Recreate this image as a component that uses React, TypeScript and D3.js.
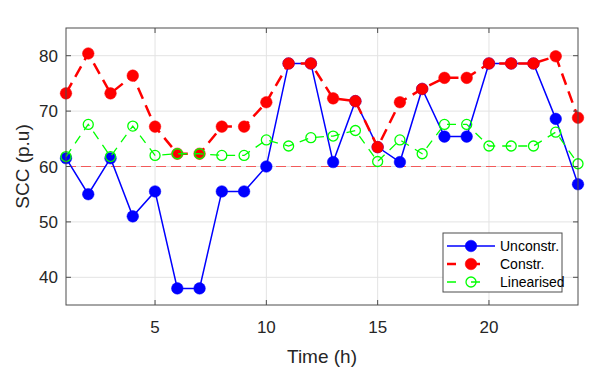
import React, { useRef, useEffect } from "react";
import { select, line, scaleLinear } from "d3";

const hours = [1, 2, 3, 4, 5, 6, 7, 8, 9, 10, 11, 12, 13, 14, 15, 16, 17, 18, 19, 20, 21, 22, 23, 24];
const unconstr = [61.5, 55, 61.5, 51, 55.5, 38, 38, 55.5, 55.5, 60, 78.6, 78.6, 60.8, 71.8, 63.5, 60.8, 74, 65.4, 65.4, 78.6, 78.6, 78.6, 68.6, 56.8];
const constr = [73.2, 80.4, 73.2, 76.4, 67.2, 62.3, 62.3, 67.2, 67.2, 71.6, 78.6, 78.6, 72.3, 71.8, 63.5, 71.6, 74, 76, 76, 78.6, 78.6, 78.6, 79.9, 68.8];
const linearised = [61.8, 67.6, 61.8, 67.3, 62, 62.3, 62.3, 62, 62, 64.8, 63.7, 65.2, 65.5, 66.5, 60.9, 64.8, 62.3, 67.6, 67.6, 63.7, 63.7, 63.7, 66.2, 60.5];
const limit = 60;
const xTicks = [5, 10, 15, 20];
const yTicks = [40, 50, 60, 70, 80];
const legendLabels = ["Unconstr.", "Constr.", "Linearised"];

const W = 598;
const H = 379;
const FONT = "'Liberation Sans', Arial, sans-serif";

const App = () => {
  const svgRef = useRef<SVGSVGElement>(null);

  useEffect(() => {
    const svg = select(svgRef.current);
    svg.selectAll("*").remove();

    const left = 66, right = 578, top = 28, bottom = 305;
    const x = scaleLinear().domain([1, 24]).range([left, right]);
    const y = scaleLinear().domain([35, 85]).range([bottom, top]);

    svg.append("rect").attr("width", W).attr("height", H).attr("fill", "#fff");

    // grid
    const grid = svg.append("g").attr("stroke", "#e3e3e3").attr("stroke-width", 1);
    xTicks.forEach((t) => {
      grid.append("line").attr("x1", x(t)).attr("x2", x(t)).attr("y1", top).attr("y2", bottom);
    });
    yTicks.forEach((t) => {
      grid.append("line").attr("x1", left).attr("x2", right).attr("y1", y(t)).attr("y2", y(t));
    });

    // limit line
    svg
      .append("line")
      .attr("x1", left)
      .attr("x2", right)
      .attr("y1", y(limit))
      .attr("y2", y(limit))
      .attr("stroke", "#f25a5a")
      .attr("stroke-width", 1.2)
      .attr("stroke-dasharray", "10,5");

    const mkLine = line<number>()
      .x((d, i) => x(hours[i]))
      .y((d) => y(d));

    const series = [
      { vals: unconstr, color: "#0000ff", width: 1.5, dash: null, fill: "#0000ff", r: 5.8 },
      { vals: constr, color: "#ff0000", width: 2.5, dash: "12,7", fill: "#ff0000", r: 5.8 },
      { vals: linearised, color: "#00ff00", width: 1.3, dash: "9,7", fill: "none", r: 5 },
    ];

    series.forEach((s) => {
      const g = svg.append("g");
      g.append("path")
        .attr("d", mkLine(s.vals))
        .attr("fill", "none")
        .attr("stroke", s.color)
        .attr("stroke-width", s.width)
        .attr("stroke-dasharray", s.dash);
      g.selectAll("circle")
        .data(s.vals)
        .join("circle")
        .attr("cx", (d, i) => x(hours[i]))
        .attr("cy", (d) => y(d))
        .attr("r", s.r)
        .attr("fill", s.fill)
        .attr("stroke", s.color)
        .attr("stroke-width", s.fill === "none" ? 1.3 : 0.5);
    });

    // axes box and ticks
    const ax = svg.append("g").attr("stroke", "#4d4d4d").attr("stroke-width", 1).attr("fill", "none");
    ax.append("rect")
      .attr("x", left)
      .attr("y", top)
      .attr("width", right - left)
      .attr("height", bottom - top);
    xTicks.forEach((t) => {
      ax.append("line").attr("x1", x(t)).attr("x2", x(t)).attr("y1", bottom).attr("y2", bottom - 5);
      ax.append("line").attr("x1", x(t)).attr("x2", x(t)).attr("y1", top).attr("y2", top + 5);
    });
    yTicks.forEach((t) => {
      ax.append("line").attr("x1", left).attr("x2", left + 5).attr("y1", y(t)).attr("y2", y(t));
      ax.append("line").attr("x1", right).attr("x2", right - 5).attr("y1", y(t)).attr("y2", y(t));
    });

    svg
      .selectAll(".xtick")
      .data(xTicks)
      .join("text")
      .attr("class", "xtick")
      .attr("x", (d) => x(d))
      .attr("y", 333)
      .attr("text-anchor", "middle")
      .style("font-family", FONT)
      .style("font-size", "17px")
      .style("fill", "#262626")
      .text((d) => d);

    svg
      .selectAll(".ytick")
      .data(yTicks)
      .join("text")
      .attr("class", "ytick")
      .attr("x", left - 8)
      .attr("y", (d) => y(d) + 6)
      .attr("text-anchor", "end")
      .style("font-family", FONT)
      .style("font-size", "17px")
      .style("fill", "#262626")
      .text((d) => d);

    svg
      .append("text")
      .attr("x", (left + right) / 2)
      .attr("y", 363)
      .attr("text-anchor", "middle")
      .style("font-family", FONT)
      .style("font-size", "19px")
      .style("fill", "#262626")
      .text("Time (h)");

    svg
      .append("text")
      .attr("transform", `translate(29,${(top + bottom) / 2}) rotate(-90)`)
      .attr("text-anchor", "middle")
      .style("font-family", FONT)
      .style("font-size", "19px")
      .style("fill", "#262626")
      .text("SCC (p.u)");

    // legend
    const lg = svg.append("g");
    lg.append("rect")
      .attr("x", 443)
      .attr("y", 233)
      .attr("width", 119)
      .attr("height", 59)
      .attr("fill", "#fff")
      .attr("stroke", "#4d4d4d")
      .attr("stroke-width", 1);
    series.forEach((s, i) => {
      const ry = 246 + i * 18;
      lg.append("line")
        .attr("x1", 447)
        .attr("x2", 495)
        .attr("y1", ry)
        .attr("y2", ry)
        .attr("stroke", s.color)
        .attr("stroke-width", s.width)
        .attr("stroke-dasharray", s.dash ? "9,15" : null);
      lg.append("circle")
        .attr("cx", 471)
        .attr("cy", ry)
        .attr("r", s.r)
        .attr("fill", s.fill)
        .attr("stroke", s.color)
        .attr("stroke-width", s.fill === "none" ? 1.3 : 0.5);
      lg.append("text")
        .attr("x", 500)
        .attr("y", ry + 5)
        .style("font-family", FONT)
        .style("font-size", "14px")
        .style("fill", "#000")
        .text(legendLabels[i]);
    });
  }, []);

  return (
    <svg
      ref={svgRef}
      width={W}
      height={H}
      style={{ position: "absolute", left: 0, top: 0 }}
    />
  );
};

export default App;
